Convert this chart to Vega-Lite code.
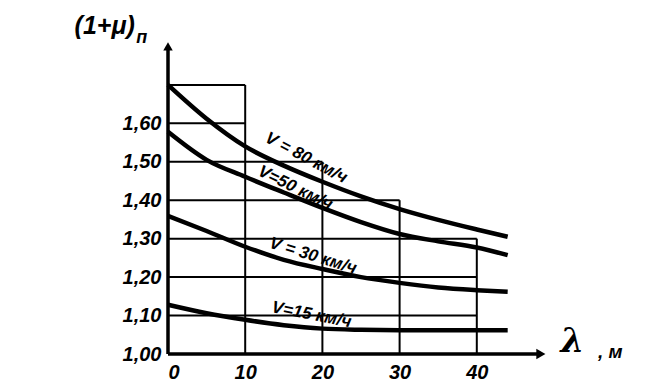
{
  "$schema": "https://vega.github.io/schema/vega-lite/v6.json",
  "width": 386,
  "height": 346,
  "autosize": "none",
  "padding": {"left": 168, "top": 8, "right": 102, "bottom": 35},
  "background": "white",
  "config": {"view": {"stroke": null}},
  "datasets": {
    "curves": [
      {"V": "80", "lam": 0, "k": 1.70}, {"V": "80", "lam": 5, "k": 1.612}, {"V": "80", "lam": 10, "k": 1.54}, {"V": "80", "lam": 15, "k": 1.49}, {"V": "80", "lam": 20, "k": 1.448}, {"V": "80", "lam": 25, "k": 1.41}, {"V": "80", "lam": 30, "k": 1.377}, {"V": "80", "lam": 35, "k": 1.349}, {"V": "80", "lam": 40, "k": 1.324}, {"V": "80", "lam": 44, "k": 1.305},
      {"V": "50", "lam": 0, "k": 1.578}, {"V": "50", "lam": 5, "k": 1.505}, {"V": "50", "lam": 10, "k": 1.461}, {"V": "50", "lam": 15, "k": 1.42}, {"V": "50", "lam": 20, "k": 1.38}, {"V": "50", "lam": 25, "k": 1.343}, {"V": "50", "lam": 30, "k": 1.312}, {"V": "50", "lam": 35, "k": 1.293}, {"V": "50", "lam": 40, "k": 1.277}, {"V": "50", "lam": 44, "k": 1.257},
      {"V": "30", "lam": 0, "k": 1.359}, {"V": "30", "lam": 5, "k": 1.32}, {"V": "30", "lam": 10, "k": 1.279}, {"V": "30", "lam": 15, "k": 1.245}, {"V": "30", "lam": 20, "k": 1.221}, {"V": "30", "lam": 25, "k": 1.20}, {"V": "30", "lam": 30, "k": 1.185}, {"V": "30", "lam": 35, "k": 1.173}, {"V": "30", "lam": 40, "k": 1.166}, {"V": "30", "lam": 44, "k": 1.162},
      {"V": "15", "lam": 0, "k": 1.128}, {"V": "15", "lam": 5, "k": 1.106}, {"V": "15", "lam": 10, "k": 1.089}, {"V": "15", "lam": 15, "k": 1.075}, {"V": "15", "lam": 20, "k": 1.066}, {"V": "15", "lam": 25, "k": 1.063}, {"V": "15", "lam": 30, "k": 1.062}, {"V": "15", "lam": 40, "k": 1.062}, {"V": "15", "lam": 44, "k": 1.062}
    ],
    "hgrid": [
      {"k": 1.1, "x0": 0, "x1": 40}, {"k": 1.2, "x0": 0, "x1": 40}, {"k": 1.3, "x0": 0, "x1": 40},
      {"k": 1.4, "x0": 0, "x1": 30}, {"k": 1.5, "x0": 0, "x1": 20}, {"k": 1.6, "x0": 0, "x1": 10}, {"k": 1.7, "x0": 0, "x1": 10}
    ],
    "vgrid": [
      {"lam": 10, "y0": 1.0, "y1": 1.7}, {"lam": 20, "y0": 1.0, "y1": 1.5}, {"lam": 30, "y0": 1.0, "y1": 1.4}, {"lam": 40, "y0": 1.0, "y1": 1.3}
    ],
    "axes": [
      {"axis": "x", "x0": 0, "x1": 48.3, "y0": 1.0, "y1": 1.0},
      {"axis": "y", "x0": 0, "x1": 0, "y0": 1.0, "y1": 1.8}
    ],
    "labels": [
      {"V": "80", "lam": 17.9, "k": 1.51, "text": "V = 80 км/ч"},
      {"V": "50", "lam": 16.5, "k": 1.432, "text": "V=50 км/ч"},
      {"V": "30", "lam": 18.8, "k": 1.255, "text": "V = 30 км/ч"},
      {"V": "15", "lam": 18.6, "k": 1.102, "text": "V=15 км/ч"}
    ],
    "titles": [
      {"id": "y", "lam": -8.2, "k": 1.852, "text": "(1+μ)"},
      {"id": "ysub", "lam": -3.4, "k": 1.823, "text": "п"},
      {"id": "x", "lam": 52.4, "k": 1.031, "text": "λ"},
      {"id": "xunit", "lam": 57.3, "k": 1.005, "text": ", м"}
    ]
  },
  "encoding": {
    "x": {"type": "quantitative", "scale": {"domain": [0, 50], "nice": false, "zero": false}},
    "y": {"type": "quantitative", "scale": {"domain": [1.0, 1.9], "nice": false, "zero": false}}
  },
  "layer": [
    {
      "data": {"name": "hgrid"},
      "mark": {"type": "rule", "color": "black", "strokeWidth": 2, "clip": false},
      "encoding": {
        "x": {"field": "x0", "type": "quantitative", "axis": {"title": null, "values": [0, 10, 20, 30, 40], "grid": false, "domain": false, "ticks": false, "labelFont": "Liberation Sans", "labelFontSize": 20, "labelFontWeight": "bold", "labelFontStyle": "italic", "labelColor": "black", "labelPadding": 8}},
        "x2": {"field": "x1"},
        "y": {"field": "k", "type": "quantitative", "axis": {"title": null, "values": [1.0, 1.1, 1.2, 1.3, 1.4, 1.5, 1.6], "labelExpr": "replace(format(datum.value, '.2f'), '.', ',')", "grid": false, "domain": false, "ticks": false, "labelFont": "Liberation Sans", "labelFontSize": 20, "labelFontWeight": "bold", "labelFontStyle": "italic", "labelColor": "black", "labelPadding": 7}}
      }
    },
    {
      "data": {"name": "vgrid"},
      "mark": {"type": "rule", "color": "black", "strokeWidth": 2, "clip": false},
      "encoding": {
        "x": {"field": "lam", "type": "quantitative"},
        "y": {"field": "y0", "type": "quantitative"},
        "y2": {"field": "y1"}
      }
    },
    {
      "data": {"name": "axes"},
      "mark": {"type": "rule", "color": "black", "strokeWidth": 3.5, "clip": false},
      "encoding": {
        "x": {"field": "x0", "type": "quantitative"},
        "x2": {"field": "x1"},
        "y": {"field": "y0", "type": "quantitative"},
        "y2": {"field": "y1"}
      }
    },
    {
      "data": {"name": "axes"},
      "transform": [{"filter": "datum.axis == 'x'"}],
      "mark": {"type": "point", "shape": "triangle-right", "filled": true, "color": "black", "size": 110, "opacity": 1, "clip": false},
      "encoding": {
        "x": {"field": "x1", "type": "quantitative"},
        "y": {"field": "y1", "type": "quantitative"}
      }
    },
    {
      "data": {"name": "axes"},
      "transform": [{"filter": "datum.axis == 'y'"}],
      "mark": {"type": "point", "shape": "triangle-up", "filled": true, "color": "black", "size": 90, "opacity": 1, "clip": false},
      "encoding": {
        "x": {"field": "x1", "type": "quantitative"},
        "y": {"field": "y1", "type": "quantitative"}
      }
    },
    {
      "data": {"name": "curves"},
      "mark": {"type": "line", "color": "black", "strokeWidth": 4.5, "interpolate": "monotone", "clip": false},
      "encoding": {
        "x": {"field": "lam", "type": "quantitative"},
        "y": {"field": "k", "type": "quantitative"},
        "detail": {"field": "V"}
      }
    },
    {
      "data": {"name": "labels"},
      "transform": [{"filter": "datum.V == '80'"}],
      "mark": {"type": "text", "angle": 28, "font": "Liberation Sans", "fontSize": 17, "fontWeight": "bold", "fontStyle": "italic", "color": "black", "align": "center", "baseline": "middle", "clip": false},
      "encoding": {"x": {"field": "lam", "type": "quantitative"}, "y": {"field": "k", "type": "quantitative"}, "text": {"field": "text"}}
    },
    {
      "data": {"name": "labels"},
      "transform": [{"filter": "datum.V == '50'"}],
      "mark": {"type": "text", "angle": 26, "font": "Liberation Sans", "fontSize": 17, "fontWeight": "bold", "fontStyle": "italic", "color": "black", "align": "center", "baseline": "middle", "clip": false},
      "encoding": {"x": {"field": "lam", "type": "quantitative"}, "y": {"field": "k", "type": "quantitative"}, "text": {"field": "text"}}
    },
    {
      "data": {"name": "labels"},
      "transform": [{"filter": "datum.V == '30'"}],
      "mark": {"type": "text", "angle": 17, "font": "Liberation Sans", "fontSize": 17, "fontWeight": "bold", "fontStyle": "italic", "color": "black", "align": "center", "baseline": "middle", "clip": false},
      "encoding": {"x": {"field": "lam", "type": "quantitative"}, "y": {"field": "k", "type": "quantitative"}, "text": {"field": "text"}}
    },
    {
      "data": {"name": "labels"},
      "transform": [{"filter": "datum.V == '15'"}],
      "mark": {"type": "text", "angle": 11, "font": "Liberation Sans", "fontSize": 17, "fontWeight": "bold", "fontStyle": "italic", "color": "black", "align": "center", "baseline": "middle", "clip": false},
      "encoding": {"x": {"field": "lam", "type": "quantitative"}, "y": {"field": "k", "type": "quantitative"}, "text": {"field": "text"}}
    },
    {
      "data": {"name": "titles"},
      "transform": [{"filter": "datum.id == 'y'"}],
      "mark": {"type": "text", "font": "Liberation Sans", "fontSize": 25, "fontWeight": "bold", "fontStyle": "italic", "color": "black", "align": "center", "baseline": "middle", "clip": false},
      "encoding": {"x": {"field": "lam", "type": "quantitative"}, "y": {"field": "k", "type": "quantitative"}, "text": {"field": "text"}}
    },
    {
      "data": {"name": "titles"},
      "transform": [{"filter": "datum.id == 'ysub'"}],
      "mark": {"type": "text", "font": "Liberation Sans", "fontSize": 18, "fontWeight": "bold", "fontStyle": "italic", "color": "black", "align": "center", "baseline": "middle", "clip": false},
      "encoding": {"x": {"field": "lam", "type": "quantitative"}, "y": {"field": "k", "type": "quantitative"}, "text": {"field": "text"}}
    },
    {
      "data": {"name": "titles"},
      "transform": [{"filter": "datum.id == 'x'"}],
      "mark": {"type": "text", "font": "DejaVu Serif", "fontSize": 34, "fontWeight": "bold", "fontStyle": "italic", "color": "black", "align": "center", "baseline": "middle", "clip": false},
      "encoding": {"x": {"field": "lam", "type": "quantitative"}, "y": {"field": "k", "type": "quantitative"}, "text": {"field": "text"}}
    },
    {
      "data": {"name": "titles"},
      "transform": [{"filter": "datum.id == 'xunit'"}],
      "mark": {"type": "text", "font": "Liberation Sans", "fontSize": 19, "fontWeight": "bold", "fontStyle": "italic", "color": "black", "align": "center", "baseline": "middle", "clip": false},
      "encoding": {"x": {"field": "lam", "type": "quantitative"}, "y": {"field": "k", "type": "quantitative"}, "text": {"field": "text"}}
    }
  ]
}
